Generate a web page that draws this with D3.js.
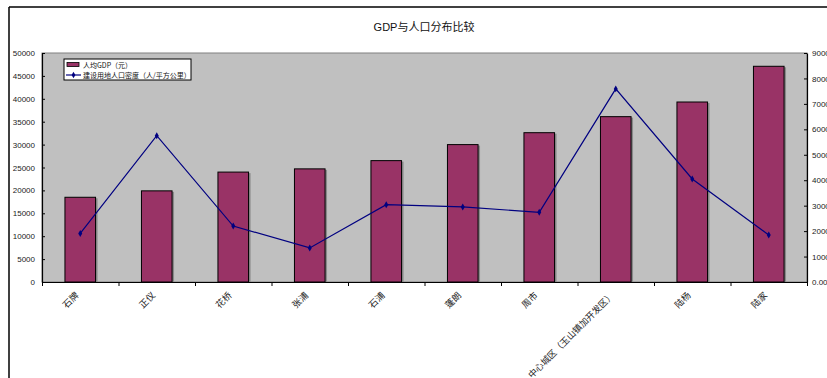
<!DOCTYPE html>
<html>
<head>
<meta charset="utf-8">
<script src="https://cdn.jsdelivr.net/npm/d3@7"></script>
<style>
  html, body { margin: 0; padding: 0; background: #fff; }
  svg { display: block; }
  text { font-family: "Liberation Sans", "Noto Sans CJK SC", sans-serif; }
</style>
</head>
<body>
<svg id="chart" width="827" height="378"></svg>
<script>
// Towns / districts along the x axis
const categories = ["石牌", "正仪", "花桥", "张浦", "石浦", "蓬朗", "周市", "中心城区（玉山镇加开发区）", "陆杨", "陆家"];
// Per-capita GDP (yuan), left axis
const gdpValues = [18500, 19900, 24000, 24700, 26500, 30000, 32600, 36100, 39300, 47100];
// Population density on construction land (people per km²), right axis
const densityValues = [1910, 5750, 2200, 1340, 3040, 2950, 2740, 7590, 4050, 1850];
const leftTicks = [0, 5000, 10000, 15000, 20000, 25000, 30000, 35000, 40000, 45000, 50000];
const rightTicks = [0, 1000, 2000, 3000, 4000, 5000, 6000, 7000, 8000, 9000];
const seriesNames = ["人均GDP（元）", "建设用地人口密度（人/平方公里）"];
const title = "GDP与人口分布比较";

const svg = d3.select("#chart");
const plot = { left: 42, right: 807, top: 53, bottom: 282 };
const cjk = '"Noto Sans CJK SC", sans-serif';

// Outer chart frame (only top and left edges fall inside the window)
svg.append("line").attr("x1", 9).attr("x2", 827).attr("y1", 7).attr("y2", 7)
  .attr("stroke", "#000").attr("stroke-width", 1.5);
svg.append("line").attr("x1", 9).attr("x2", 9).attr("y1", 7).attr("y2", 378)
  .attr("stroke", "#000").attr("stroke-width", 1.5);

svg.append("text").attr("x", 424).attr("y", 31).attr("text-anchor", "middle")
  .attr("font-size", 11).attr("fill", "#111").style("font-family", '"Liberation Sans", "Noto Sans CJK SC", sans-serif')
  .text(title);

const x = d3.scaleBand().domain(categories).range([plot.left, plot.right]).paddingInner(0).paddingOuter(0);
const yL = d3.scaleLinear().domain([0, 50000]).range([plot.bottom, plot.top]);
const yR = d3.scaleLinear().domain([0, 9000]).range([plot.bottom, plot.top]);

// Plot area
svg.append("rect").attr("x", plot.left).attr("y", plot.top)
  .attr("width", plot.right - plot.left).attr("height", plot.bottom - plot.top)
  .attr("fill", "#C0C0C0").attr("stroke", "#808080").attr("stroke-width", 1);

// Bars with a soft shadow on their right side
const barW = x.bandwidth() * 0.4;
const bars = svg.append("g");
bars.selectAll("rect.shadow").data(categories).join("rect").attr("class", "shadow")
  .attr("x", d => x(d) + (x.bandwidth() - barW) / 2 + 2)
  .attr("y", (d, i) => yL(gdpValues[i]) + 1)
  .attr("width", barW).attr("height", (d, i) => plot.bottom - yL(gdpValues[i]) - 1)
  .attr("fill", "#8a8a8a");
bars.selectAll("rect.bar").data(categories).join("rect").attr("class", "bar")
  .attr("x", d => x(d) + (x.bandwidth() - barW) / 2)
  .attr("y", (d, i) => yL(gdpValues[i]))
  .attr("width", barW).attr("height", (d, i) => plot.bottom - yL(gdpValues[i]))
  .attr("fill", "#993366").attr("stroke", "#000").attr("stroke-width", 1);

// Density line with diamond markers
const cx = d => x(d) + x.bandwidth() / 2;
const line = d3.line().x((d, i) => cx(categories[i])).y(d => yR(d));
svg.append("path").datum(densityValues).attr("d", line)
  .attr("fill", "none").attr("stroke", "#000080").attr("stroke-width", 1.2);
svg.append("g").selectAll("path").data(densityValues).join("path")
  .attr("d", d3.symbol().type(d3.symbolDiamond).size(14))
  .attr("transform", (d, i) => `translate(${cx(categories[i])},${yR(d)})`)
  .attr("fill", "#000080");

// Axes
const axisL = svg.append("g").attr("transform", `translate(${plot.left},0)`)
  .call(d3.axisLeft(yL).tickValues(leftTicks).tickSizeInner(-3).tickSizeOuter(0).tickPadding(7).tickFormat(d3.format("d")));
const axisR = svg.append("g").attr("transform", `translate(${plot.right},0)`)
  .call(d3.axisRight(yR).tickValues(rightTicks).tickSizeInner(-3).tickSizeOuter(0).tickPadding(5).tickFormat(d3.format(".2f")));
const bandEdges = categories.map(c => x(c)).concat([plot.right]);
const xs = d3.scaleLinear().domain([plot.left, plot.right]).range([plot.left, plot.right]);
const axisB = svg.append("g").attr("transform", `translate(0,${plot.bottom})`)
  .call(d3.axisBottom(xs).tickValues(bandEdges).tickSize(4).tickSizeOuter(0).tickFormat(""));
[axisL, axisR, axisB].forEach(g => {
  g.selectAll("path.domain").attr("stroke", "#000").attr("stroke-width", 1.2);
  g.selectAll("line").attr("stroke", "#000");
  g.selectAll("text").attr("font-size", 8).attr("fill", "#222").style("font-family", '"Liberation Sans", sans-serif');
});

// Rotated category labels
svg.append("g").selectAll("text").data(categories).join("text")
  .attr("transform", d => `translate(${cx(d) - 1},${plot.bottom + 14}) rotate(-45)`)
  .attr("text-anchor", "end").attr("font-size", 9).attr("fill", "#222")
  .style("font-family", cjk).text(d => d);

// Legend
const lg = svg.append("g").attr("transform", "translate(64,59)");
lg.append("rect").attr("width", 127).attr("height", 21).attr("fill", "#fff")
  .attr("stroke", "#000").attr("stroke-width", 1);
lg.append("rect").attr("x", 3).attr("y", 3.5).attr("width", 12).attr("height", 4)
  .attr("fill", "#993366").attr("stroke", "#000").attr("stroke-width", 0.8);
lg.append("line").attr("x1", 2).attr("x2", 17).attr("y1", 16).attr("y2", 16)
  .attr("stroke", "#000080").attr("stroke-width", 1.2);
lg.append("path").attr("d", d3.symbol().type(d3.symbolDiamond).size(12))
  .attr("transform", "translate(9.5,16)").attr("fill", "#000080");
lg.selectAll("text.lbl").data(seriesNames).join("text").attr("class", "lbl")
  .attr("x", 19).attr("y", (d, i) => 8.5 + i * 10)
  .attr("font-size", 7).attr("fill", "#111").style("font-family", cjk).text(d => d);
</script>
</body>
</html>
